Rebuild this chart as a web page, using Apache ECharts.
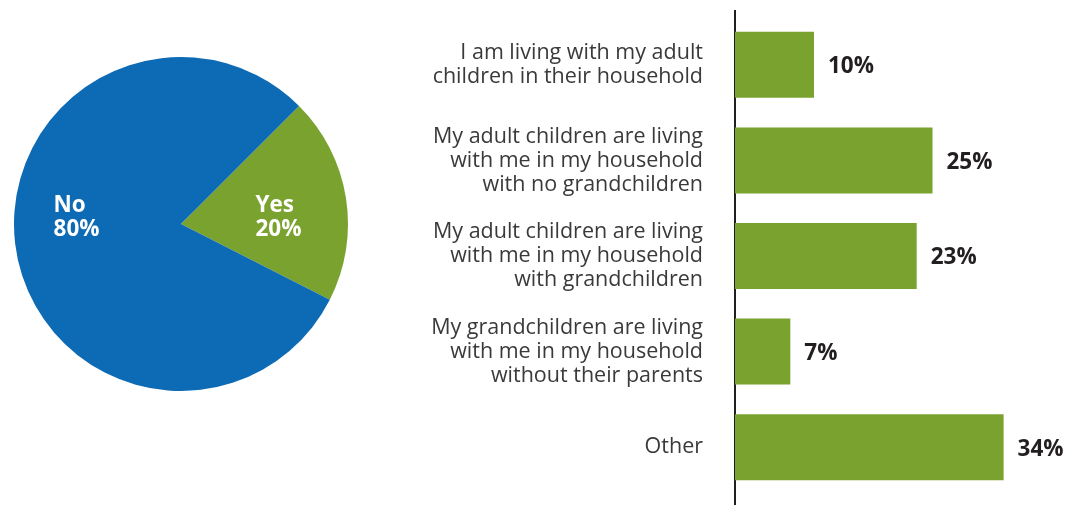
<!DOCTYPE html>
<html lang="en">
<head>
	<meta charset="utf-8">
	<title>Living arrangements</title>
	<script src="https://cdn.jsdelivr.net/npm/echarts@6/dist/echarts.min.js"></script>
	<style>
		html, body { margin: 0; padding: 0; background: #fff; }
		#main { width: 1077px; height: 505px; }
	</style>
</head>
<body>
	<div id="main"></div>
	<script>
		// pie: living with family?
		var pieNames = ['Yes', 'No'];
		var pieValues = [20, 80];
		// bar: arrangement breakdown
		var categories = [
			'I am living with my adult\nchildren in their household',
			'My adult children are living\nwith me in my household\nwith no grandchildren',
			'My adult children are living\nwith me in my household\nwith grandchildren',
			'My grandchildren are living\nwith me in my household\nwithout their parents',
			'Other'
		];
		var barValues = [10, 25, 23, 7, 34];

		var green = '#7aa22f';
		var blue = '#0d6ab4';
		var font = '"Open Sans", "Noto Sans", sans-serif';

		var pieColors = [green, blue];
		var pieOffsets = [[12, 7], [-19, -20]];
		var pieData = pieNames.map(function(n, i) {
			return {
				name: n,
				value: pieValues[i],
				itemStyle: { color: pieColors[i] },
				label: { offset: pieOffsets[i] }
			};
		});

		var option = {
			animation: false,
			textStyle: { fontFamily: font },
			grid: { left: 735, right: 26, top: 17, height: 478 },
			xAxis: {
				type: 'value', min: 0, max: 40, show: false
			},
			yAxis: {
				type: 'category',
				inverse: true,
				data: categories,
				axisLine: { show: false },
				axisTick: { show: false },
				axisLabel: {
					margin: 32,
					fontSize: 21.5,
					lineHeight: 24,
					color: '#3a3a3a',
					align: 'right',
					fontFamily: font
				}
			},
			series: [{
				type: 'pie',
				center: [181, 224],
				radius: [0, 167],
				startAngle: 45,
				clockwise: true,
				data: pieData,
				label: {
					show: true,
					position: 'inside',
					formatter: '{t|{b}}\n{t|{c}%}',
					rich: {
						t: {
							color: '#fff',
							fontSize: 22.5,
							fontWeight: 'bold',
							lineHeight: 24,
							align: 'left',
							fontFamily: font
						}
					}
				},
				labelLine: { show: false },
				emphasis: { disabled: true }
			}, {
				type: 'bar',
				data: barValues,
				barWidth: 66,
				itemStyle: { color: green },
				label: {
					show: true,
					position: 'right',
					distance: 14,
					offset: [0, 2],
					formatter: '{c}%',
					color: '#231f20',
					fontSize: 22.5,
					fontWeight: 'bold',
					fontFamily: font
				}
			}],
			graphic: [{
				type: 'line',
				shape: { x1: 735, y1: 10, x2: 735, y2: 505 },
				style: { stroke: '#231f20', lineWidth: 2 }
			}]
		};

		var myChart = echarts.init(document.getElementById('main'));
		myChart.setOption(option);
	</script>
</body>
</html>
